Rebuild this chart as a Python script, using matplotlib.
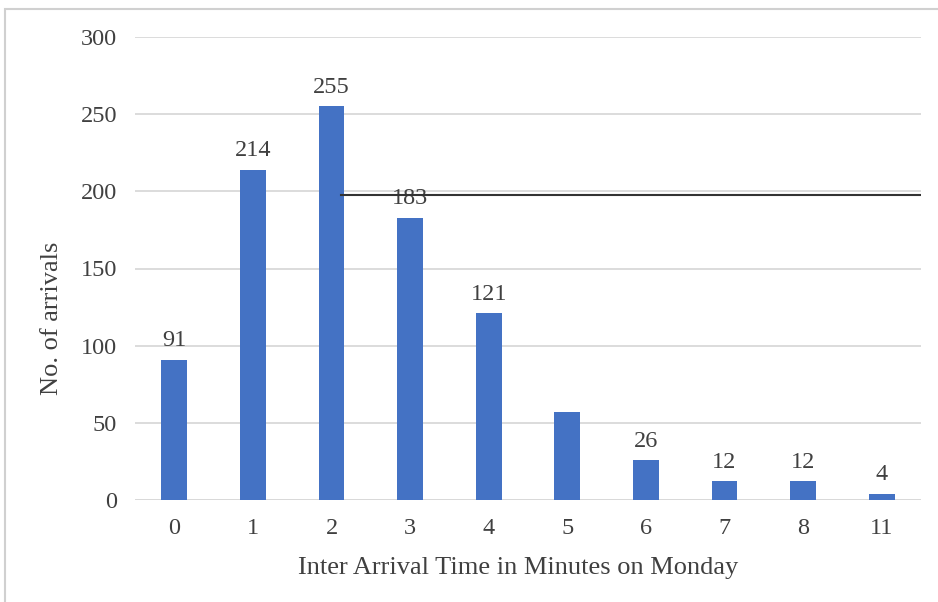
import matplotlib.pyplot as plt
from matplotlib.patches import Rectangle
from matplotlib.lines import Line2D
import numpy as np

plt.rcParams['font.family'] = ['Liberation Serif', 'DejaVu Serif']

minutes = ['0', '1', '2', '3', '4', '5', '6', '7', '8', '11']
arrivals = [91, 214, 255, 183, 121, 57, 26, 12, 12, 4]
shown_labels = [91, 214, 255, 183, 121, None, 26, 12, 12, 4]

text_col = '#404040'
bar_col = '#4472C4'
grid_col = '#D9D9D9'

fig = plt.figure(figsize=(9.38, 6.02), dpi=100)
ax = fig.add_axes([135 / 938, 1 - 500 / 602, 786 / 938, 463 / 602])

x = np.arange(len(minutes))
ax.bar(x, arrivals, width=0.33, color=bar_col, zorder=3)

for xi, v in zip(x, shown_labels):
    if v is None:
        continue
    ax.annotate(str(v), (xi, v), xytext=(0, 6), textcoords='offset points',
                ha='center', va='bottom', fontsize=17.5, color=text_col)

ax.set_xlim(-0.5, len(minutes) - 0.5)
ax.set_ylim(0, 300)
ax.set_yticks(range(0, 301, 50))
ax.set_xticks(x)
ax.set_xticklabels(minutes)
ax.tick_params(axis='both', length=0, labelsize=17.5, labelcolor=text_col)
ax.tick_params(axis='y', pad=13)
ax.tick_params(axis='x', pad=13)
ax.yaxis.grid(True, color=grid_col, linewidth=1.3, zorder=0)
for s in ax.spines.values():
    s.set_visible(False)
ax.axhline(0, color=grid_col, linewidth=1.3, zorder=1)

ax.set_xlabel('Inter Arrival Time in Minutes on Monday', fontsize=19,
              color=text_col)
ax.set_ylabel('No. of arrivals', fontsize=19, color=text_col)
ax.xaxis.set_label_coords(0.487, -0.124)
ax.yaxis.set_label_coords(-0.091, 0.393)

# stray dark rule across the upper middle of the plot
ax.add_line(Line2D([0.262, 1.0], [197.5 / 300, 197.5 / 300], transform=ax.transAxes,
                   color='#333333', linewidth=1.5, zorder=4))

# chart area border, cut off at right and bottom
fig.patches.append(Rectangle((5 / 938, -0.1), 1.2, 1 - 9 / 602 + 0.1,
                             transform=fig.transFigure, fill=False,
                             edgecolor='#D0D0D0', linewidth=1.5))

fig.savefig('out.png', dpi=100)
